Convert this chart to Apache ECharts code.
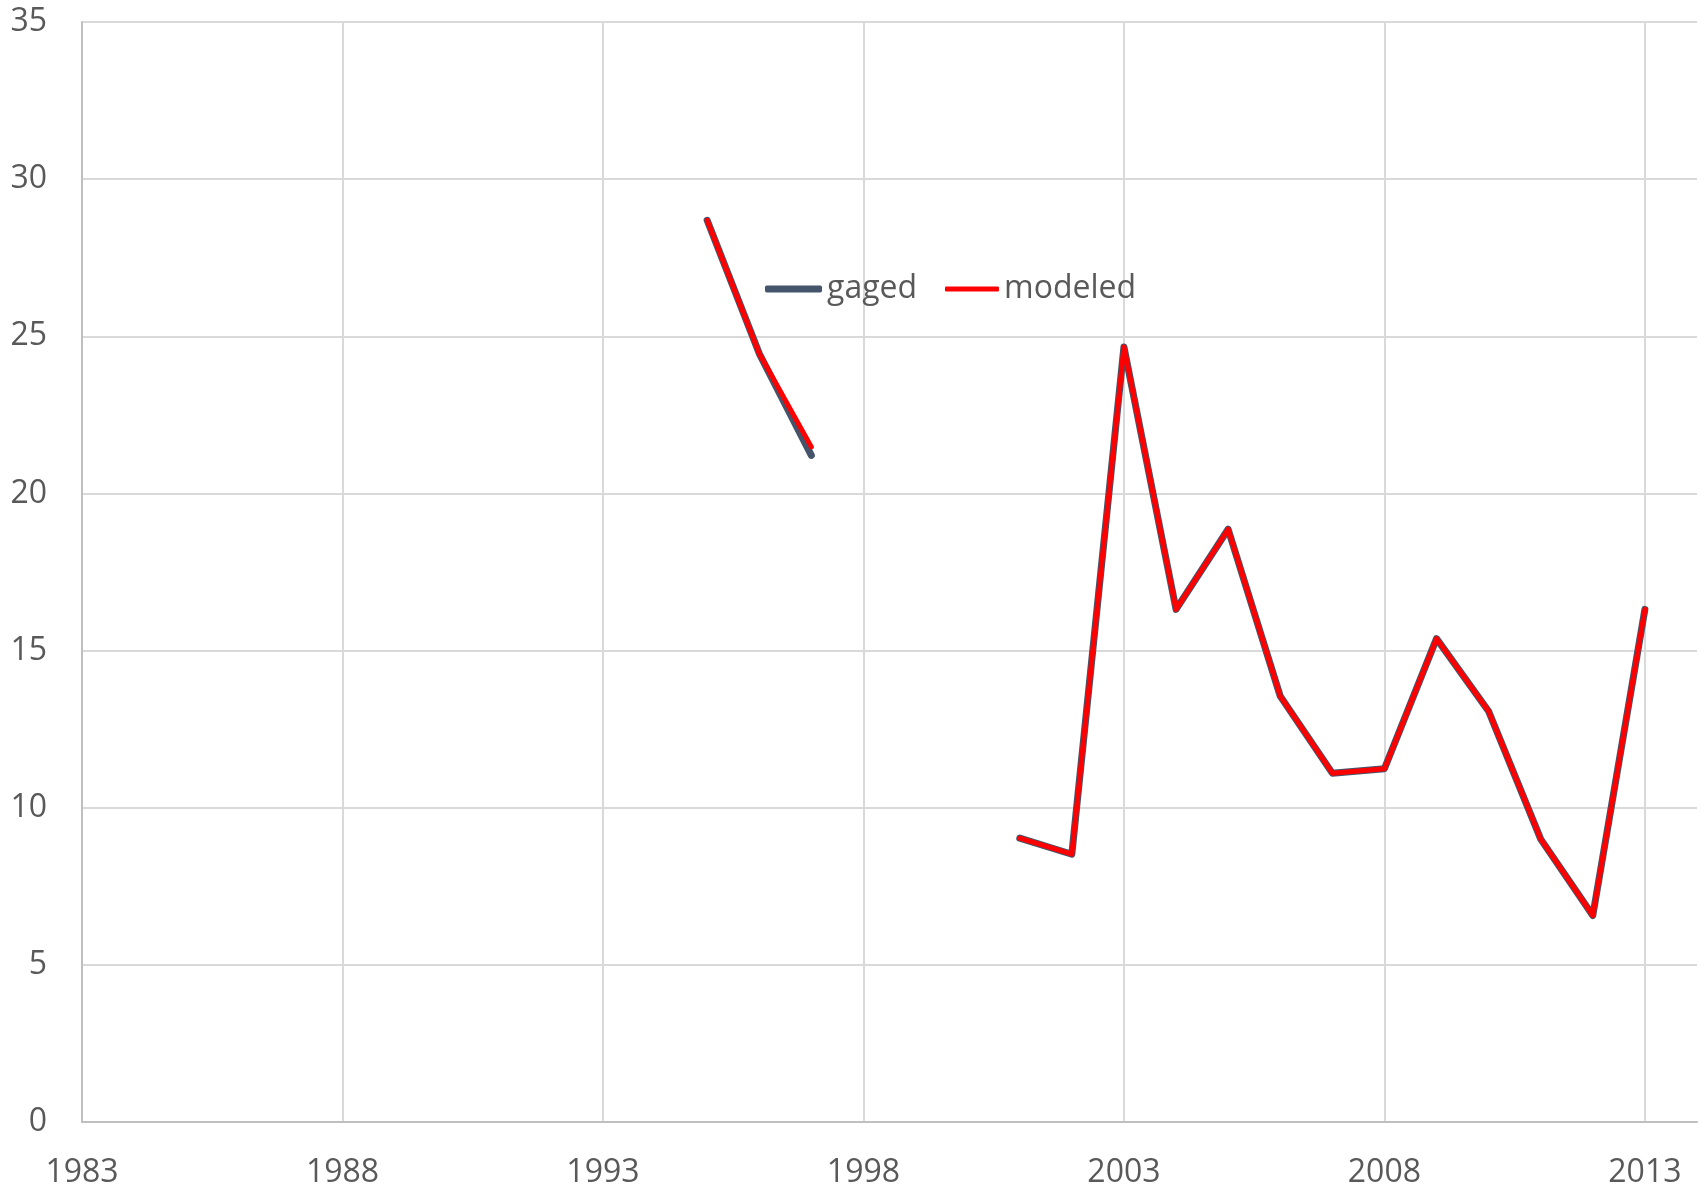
<!DOCTYPE html>
<html>
<head>
<meta charset="utf-8">
<script src="https://cdn.jsdelivr.net/npm/echarts@6/dist/echarts.min.js"></script>
<style>
  html, body { margin: 0; padding: 0; background: #fff; }
  #chart { width: 1701px; height: 1193px; }
</style>
</head>
<body>
<div id="chart"></div>
<script>
const years = [1995, 1996, 1997, 1998, 1999, 2000, 2001, 2002, 2003, 2004, 2005, 2006, 2007, 2008, 2009, 2010, 2011, 2012, 2013];
const gaged = [28.69, 24.45, 21.21, null, null, null, 9.03, 8.52, 24.66, 16.31, 18.86, 13.55, 11.10, 11.24, 15.38, 13.07, 9.0, 6.57, 16.31];
const modeled = [28.69, 24.45, 21.48, null, null, null, 9.03, 8.52, 24.66, 16.31, 18.86, 13.55, 11.10, 11.24, 15.38, 13.07, 9.0, 6.57, 16.31];

const textColor = '#595959';
const fontFamily = '"Open Sans", sans-serif';

function pairs(vals) {
  return years.map((y, i) => [y, vals[i] === null ? '-' : vals[i]]);
}

const chart = echarts.init(document.getElementById('chart'));

const option = {
  animation: false,
  backgroundColor: '#fff',
  grid: { left: 82, top: 22, right: 4, bottom: 71, containLabel: false },
  legend: [
    {
      data: ['gaged'],
      left: 760, top: 268,
      itemWidth: 57, itemHeight: 7,
      icon: 'roundRect',
      textStyle: { color: textColor, fontSize: 32, fontFamily: fontFamily }
    },
    {
      data: ['modeled'],
      left: 940, top: 268,
      itemWidth: 54, itemHeight: 5,
      icon: 'roundRect',
      textStyle: { color: textColor, fontSize: 32, fontFamily: fontFamily }
    }
  ],
  xAxis: {
    type: 'value',
    min: 1983, max: 2014, interval: 5,
    axisLine: { show: true, onZero: false, lineStyle: { color: '#BFBFBF', width: 2 } },
    axisTick: { show: false },
    axisLabel: {
      color: textColor, fontSize: 32, fontFamily: fontFamily, margin: 35,
      showMaxLabel: false,
      formatter: v => String(v)
    },
    splitLine: { show: true, showMaxLine: false, lineStyle: { color: '#D9D9D9', width: 2 } }
  },
  yAxis: {
    type: 'value',
    min: 0, max: 35, interval: 5,
    axisLine: { show: true, lineStyle: { color: '#BFBFBF', width: 2 } },
    axisTick: { show: false },
    axisLabel: { color: textColor, fontSize: 32, fontFamily: fontFamily, margin: 35, padding: [10, 0, 0, 0] },
    splitLine: { show: true, lineStyle: { color: '#D9D9D9', width: 2 } }
  },
  series: [
    {
      name: 'gaged',
      type: 'line',
      data: pairs(gaged),
      symbol: 'none',
      itemStyle: { color: '#44546A' },
      lineStyle: { color: '#44546A', width: 7, cap: 'round', join: 'round' }
    },
    {
      name: 'modeled',
      type: 'line',
      data: pairs(modeled),
      symbol: 'none',
      itemStyle: { color: '#FF0000' },
      lineStyle: { color: '#FF0000', width: 5, cap: 'round', join: 'round' }
    }
  ]
};

chart.setOption(option);
window.addEventListener('resize', function () {
  chart.resize();
});
</script>
</body>
</html>
